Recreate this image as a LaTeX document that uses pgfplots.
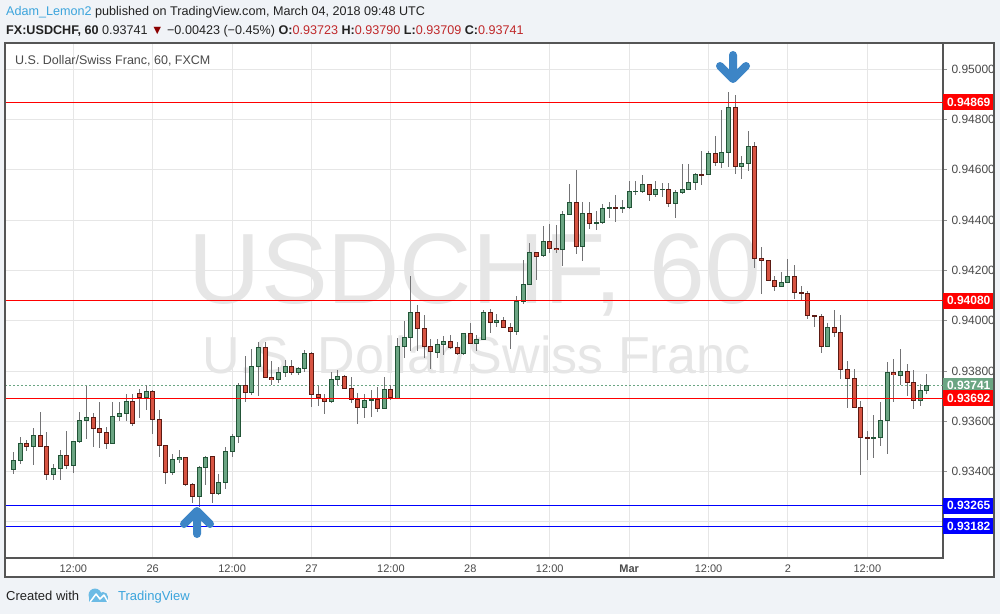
\documentclass[border=0pt]{standalone}
\usepackage{fontspec}
\setmainfont{Liberation Sans}
\usepackage{pgfplots}
\usepackage{pgfplotstable}
\pgfplotsset{compat=1.18}

\definecolor{bg}{HTML}{F0F3F7}
\definecolor{framec}{HTML}{555555}
\definecolor{gridc}{HTML}{E6E6E6}
\definecolor{upfill}{HTML}{6BA583}
\definecolor{upline}{HTML}{225437}
\definecolor{dnfill}{HTML}{D75442}
\definecolor{dnline}{HTML}{5B1A13}
\definecolor{wick}{HTML}{737375}
\definecolor{tvblue}{HTML}{3BA4DC}
\definecolor{arrowblue}{HTML}{3D85C6}
\definecolor{wm}{HTML}{E6E6E6}
\definecolor{txt}{HTML}{4A4A4A}
\definecolor{dark}{HTML}{222222}
\definecolor{valred}{HTML}{C0282A}
\definecolor{tri}{HTML}{8B0000}
\definecolor{lvred}{HTML}{FF0000}
\definecolor{lvblue}{HTML}{0000FF}

% hourly candles, x = hours from Fri 23 Feb 12:00 (weekend removed)
\pgfplotstableread{
i o h l c
-9 0.93409 0.93478 0.93390 0.93446
-8 0.93445 0.93541 0.93430 0.93512
-7 0.93512 0.93526 0.93483 0.93500
-6 0.93500 0.93573 0.93427 0.93544
-5 0.93544 0.93637 0.93499 0.93500
-4 0.93500 0.93557 0.93369 0.93389
-3 0.93389 0.93433 0.93369 0.93414
-2 0.93413 0.93486 0.93369 0.93465
-1 0.93465 0.93563 0.93409 0.93425
0 0.93425 0.93522 0.93393 0.93520
1 0.93520 0.93637 0.93512 0.93604
2 0.93604 0.93743 0.93531 0.93616
3 0.93616 0.93632 0.93499 0.93572
4 0.93572 0.93677 0.93495 0.93556
5 0.93556 0.93578 0.93489 0.93512
6 0.93512 0.93677 0.93510 0.93620
7 0.93620 0.93677 0.93602 0.93632
8 0.93632 0.93711 0.93602 0.93679
9 0.93679 0.93711 0.93584 0.93592
10 0.93711 0.93730 0.93616 0.93695
11 0.93695 0.93743 0.93645 0.93719
12 0.93719 0.93724 0.93552 0.93608
13 0.93608 0.93645 0.93459 0.93505
14 0.93505 0.93507 0.93351 0.93396
15 0.93396 0.93470 0.93389 0.93449
16 0.93449 0.93486 0.93433 0.93457
17 0.93457 0.93460 0.93345 0.93348
18 0.93349 0.93356 0.93276 0.93302
19 0.93302 0.93422 0.93262 0.93417
20 0.93417 0.93461 0.93348 0.93459
21 0.93461 0.93463 0.93276 0.93314
22 0.93314 0.93393 0.93306 0.93357
23 0.93357 0.93498 0.93330 0.93481
24 0.93481 0.93549 0.93459 0.93540
25 0.93540 0.93754 0.93512 0.93741
26 0.93741 0.93860 0.93678 0.93714
27 0.93714 0.93890 0.93705 0.93817
28 0.93817 0.93916 0.93701 0.93894
29 0.93894 0.93916 0.93773 0.93775
30 0.93775 0.93840 0.93744 0.93767
31 0.93767 0.93817 0.93751 0.93795
32 0.93795 0.93844 0.93777 0.93817
33 0.93817 0.93844 0.93784 0.93795
34 0.93795 0.93817 0.93784 0.93811
35 0.93811 0.93886 0.93797 0.93870
36 0.93870 0.93877 0.93658 0.93707
37 0.93707 0.93740 0.93661 0.93693
38 0.93693 0.93711 0.93629 0.93680
39 0.93680 0.93796 0.93675 0.93767
40 0.93767 0.93807 0.93747 0.93779
41 0.93779 0.93783 0.93730 0.93731
42 0.93731 0.93775 0.93672 0.93687
43 0.93687 0.93711 0.93588 0.93656
44 0.93656 0.93711 0.93612 0.93683
45 0.93683 0.93724 0.93618 0.93687
46 0.93687 0.93737 0.93638 0.93652
47 0.93652 0.93775 0.93650 0.93727
48 0.93727 0.93747 0.93687 0.93694
49 0.93694 0.93934 0.93690 0.93897
50 0.93897 0.94000 0.93852 0.93934
51 0.93934 0.94178 0.93883 0.94033
52 0.94033 0.94062 0.93883 0.93969
53 0.93969 0.94023 0.93852 0.93897
54 0.93897 0.93930 0.93811 0.93877
55 0.93877 0.93930 0.93852 0.93906
56 0.93906 0.93939 0.93864 0.93918
57 0.93918 0.93943 0.93890 0.93894
58 0.93894 0.93916 0.93864 0.93870
59 0.93870 0.93952 0.93864 0.93950
60 0.93950 0.93990 0.93910 0.93912
61 0.93912 0.93943 0.93881 0.93926
62 0.93926 0.94045 0.93923 0.94033
63 0.94033 0.94048 0.93952 0.93994
64 0.93994 0.94029 0.93976 0.94002
65 0.94002 0.94016 0.93970 0.93974
66 0.93974 0.93990 0.93887 0.93958
67 0.93958 0.94098 0.93944 0.94078
68 0.94078 0.94241 0.94066 0.94145
69 0.94145 0.94308 0.94142 0.94272
70 0.94272 0.94274 0.94162 0.94258
71 0.94258 0.94376 0.94255 0.94317
72 0.94317 0.94384 0.94270 0.94290
73 0.94290 0.94380 0.94270 0.94284
74 0.94284 0.94437 0.94217 0.94423
75 0.94423 0.94546 0.94420 0.94471
76 0.94471 0.94599 0.94268 0.94294
77 0.94294 0.94473 0.94239 0.94427
78 0.94427 0.94471 0.94363 0.94387
79 0.94387 0.94436 0.94363 0.94391
80 0.94391 0.94464 0.94387 0.94447
81 0.94447 0.94473 0.94411 0.94451
82 0.94451 0.94500 0.94394 0.94447
83 0.94447 0.94480 0.94427 0.94451
84 0.94451 0.94555 0.94447 0.94514
85 0.94514 0.94555 0.94500 0.94516
86 0.94516 0.94579 0.94509 0.94542
87 0.94542 0.94546 0.94477 0.94503
88 0.94503 0.94555 0.94491 0.94522
89 0.94522 0.94551 0.94493 0.94524
90 0.94524 0.94551 0.94453 0.94467
91 0.94467 0.94520 0.94409 0.94510
92 0.94510 0.94623 0.94504 0.94522
93 0.94522 0.94623 0.94520 0.94550
94 0.94550 0.94586 0.94520 0.94582
95 0.94582 0.94675 0.94540 0.94580
96 0.94580 0.94676 0.94579 0.94666
97 0.94666 0.94734 0.94616 0.94630
98 0.94630 0.94838 0.94608 0.94670
99 0.94670 0.94908 0.94610 0.94848
100 0.94848 0.94897 0.94583 0.94616
101 0.94616 0.94655 0.94562 0.94626
102 0.94626 0.94754 0.94596 0.94693
103 0.94693 0.94711 0.94211 0.94250
104 0.94250 0.94294 0.94105 0.94240
105 0.94240 0.94242 0.94158 0.94162
106 0.94162 0.94178 0.94119 0.94137
107 0.94137 0.94194 0.94135 0.94154
108 0.94154 0.94245 0.94152 0.94177
109 0.94177 0.94221 0.94086 0.94112
110 0.94112 0.94138 0.94082 0.94109
111 0.94109 0.94117 0.94006 0.94021
112 0.94021 0.94023 0.93976 0.94017
113 0.94017 0.94029 0.93873 0.93897
114 0.93897 0.93990 0.93895 0.93974
115 0.93974 0.94045 0.93936 0.93954
116 0.93954 0.94024 0.93769 0.93807
117 0.93807 0.93840 0.93652 0.93771
118 0.93771 0.93807 0.93652 0.93656
119 0.93656 0.93682 0.93388 0.93536
120 0.93536 0.93561 0.93446 0.93534
121 0.93534 0.93625 0.93455 0.93536
122 0.93536 0.93677 0.93502 0.93604
123 0.93604 0.93836 0.93471 0.93795
124 0.93795 0.93848 0.93678 0.93785
125 0.93785 0.93890 0.93744 0.93800
126 0.93800 0.93831 0.93702 0.93755
127 0.93755 0.93804 0.93648 0.93683
128 0.93683 0.93747 0.93662 0.93723
129 0.93723 0.93790 0.93709 0.93741
}\candles

\pgfplotsset{
  body/.style n args={2}{draw=none, mark=none, forget plot,
    unbounded coords=discard,
    error bars/.cd, y dir=both, y explicit, error mark=none,
    error bar style={draw=#1, line width=#2, solid}},
  level/.style={draw=#1, line width=1.3pt, forget plot},
}
\tikzset{
  pricebox/.style={anchor=west, fill=#1, text=white, inner sep=0pt,
    minimum width=51pt, minimum height=16pt,
    font=\bfseries\fontsize{12}{12}\selectfont},
}

\begin{document}
\begin{tikzpicture}[x=1pt,y=1pt]
\path[use as bounding box, fill=bg] (0,0) rectangle (1000,614);
\fill[white] (5,37) rectangle (994,571);

% watermark
\node[text=wm, font=\fontsize{100}{100}\selectfont, anchor=base]
  at (475,310.7) {USDCHF, 60};
\node[text=wm, font=\fontsize{52}{52}\selectfont, anchor=base]
  at (476.5,240.7) {U.S. Dollar/Swiss Franc};

\begin{axis}[
  at={(5pt,56pt)}, anchor=south west,
  scale only axis, width=938pt, height=515pt,
  xmin=-10.32, xmax=131.43,
  ymin=0.930565, ymax=0.951042,
  clip=false,
  axis line style={draw=framec, line width=1.2pt},
  grid=major, grid style={draw=gridc, line width=1pt},
  xtick={0,12,...,120},
  xticklabels={12:00,26,12:00,27,12:00,28,12:00,\textbf{Mar},12:00,2,12:00},
  xtick style={draw=none},
  xticklabel style={font=\fontsize{11}{11}\selectfont, text=txt, yshift=1pt},
  ytick={0.932,0.934,0.936,0.938,0.940,0.942,0.944,0.946,0.948,0.950},
  yticklabels={{},0.93400,0.93600,0.93800,0.94000,0.94200,0.94400,0.94600,0.94800,0.95000},
  ytick pos=right, yticklabel pos=right,
  tick align=outside, major tick length=4pt,
  ytick style={draw=txt!60, line width=0.8pt},
  yticklabel style={font=\fontsize{12}{12}\selectfont, text=txt, anchor=west, xshift=1pt},
]
% current price (dotted)
\addplot[upfill, line width=0.8pt, dash pattern=on 2pt off 2pt, forget plot]
  coordinates {(-10.32,0.93741) (131.43,0.93741)};

% wicks
\addplot[body={wick}{1pt}] table[x=i,
  y expr={(\thisrow{h}+\thisrow{l})/2},
  y error expr={(\thisrow{h}-\thisrow{l})/2}] {\candles};

% bullish bodies
\addplot[body={upline}{5pt}] table[
  x expr={\thisrow{c}>=\thisrow{o} ? \thisrow{i} : nan},
  y expr={(\thisrow{o}+\thisrow{c})/2},
  y error expr={abs(\thisrow{c}-\thisrow{o})/2+0.00002}] {\candles};
\addplot[body={upfill}{3pt}] table[
  x expr={\thisrow{c}>=\thisrow{o} ? \thisrow{i} : nan},
  y expr={(\thisrow{o}+\thisrow{c})/2},
  y error expr={max(abs(\thisrow{c}-\thisrow{o})/2-0.00002,0)}] {\candles};

% bearish bodies
\addplot[body={dnline}{5pt}] table[
  x expr={\thisrow{c}<\thisrow{o} ? \thisrow{i} : nan},
  y expr={(\thisrow{o}+\thisrow{c})/2},
  y error expr={abs(\thisrow{c}-\thisrow{o})/2+0.00002}] {\candles};
\addplot[body={dnfill}{3pt}] table[
  x expr={\thisrow{c}<\thisrow{o} ? \thisrow{i} : nan},
  y expr={(\thisrow{o}+\thisrow{c})/2},
  y error expr={max(abs(\thisrow{c}-\thisrow{o})/2-0.00002,0)}] {\candles};

% horizontal levels
\addplot[level=lvred] coordinates {(-10.32,0.94869) (131.43,0.94869)};
\addplot[level=lvred] coordinates {(-10.32,0.94080) (131.43,0.94080)};
\addplot[level=lvred] coordinates {(-10.32,0.93692) (131.43,0.93692)};
\addplot[level=lvblue] coordinates {(-10.32,0.93265) (131.43,0.93265)};
\addplot[level=lvblue] coordinates {(-10.32,0.93182) (131.43,0.93182)};

% price scale labels
\node[pricebox=lvred] at (axis cs:131.43,0.94869) {0.94869};
\node[pricebox=lvred] at (axis cs:131.43,0.94080) {0.94080};
\node[pricebox=upfill] at (axis cs:131.43,0.93741) {0.93741};
\node[pricebox=lvred] at (axis cs:131.43,0.93692) {0.93692};
\node[pricebox=lvblue] at (axis cs:131.43,0.93265) {0.93265};
\node[pricebox=lvblue] at (axis cs:131.43,0.93182) {0.93182};
\end{axis}

% outer frame
\draw[framec, line width=1.2pt] (5,37) rectangle (994,571);

% arrows
\draw[arrowblue, line width=8pt, line cap=round, line join=round]
  (733,559) -- (733,535) (720,548) -- (733,535) -- (746,548);
\draw[arrowblue, line width=8pt, line cap=round, line join=round]
  (197,80) -- (197,103) (184,90) -- (197,103) -- (210,90);

% chart title inside pane
\node[anchor=base west, inner sep=0pt, text=txt, font=\fontsize{12.5}{12.5}\selectfont]
  at (15,549) {U.S. Dollar/Swiss Franc, 60, FXCM};

% header
\node[anchor=base west, inner sep=0pt, text=dark, font=\fontsize{12.6}{12.6}\selectfont]
  at (6,598) {\textcolor{tvblue}{Adam\_Lemon2} published on TradingView.com, March 04, 2018 09:48 UTC};
\node[anchor=base west, inner sep=0pt, text=dark, font=\fontsize{12.6}{12.6}\selectfont]
  at (6,579.5) {\textbf{FX:USDCHF, 60}\ 0.93741 \textcolor{tri}{▼} −0.00423 (−0.45\%)
  \textbf{O:}\textcolor{valred}{0.93723} \textbf{H:}\textcolor{valred}{0.93790}
  \textbf{L:}\textcolor{valred}{0.93709} \textbf{C:}\textcolor{valred}{0.93741}};

% footer
\node[anchor=base west, inner sep=0pt, text=dark, font=\fontsize{13}{13}\selectfont]
  at (6,14) {Created with};
\fill[tvblue!75] (89,12) rectangle (108,18);
\fill[tvblue!75] (95,19) circle (6.5);
\fill[tvblue!75] (103,17) circle (5);
\draw[white, line width=1.5pt, line join=round] (90,12) -- (96,20) -- (100,15) -- (104,19) -- (108,12);
\node[anchor=base west, inner sep=0pt, text=tvblue, font=\fontsize{13}{13}\selectfont]
  at (118,14) {TradingView};
\end{tikzpicture}
\end{document}
